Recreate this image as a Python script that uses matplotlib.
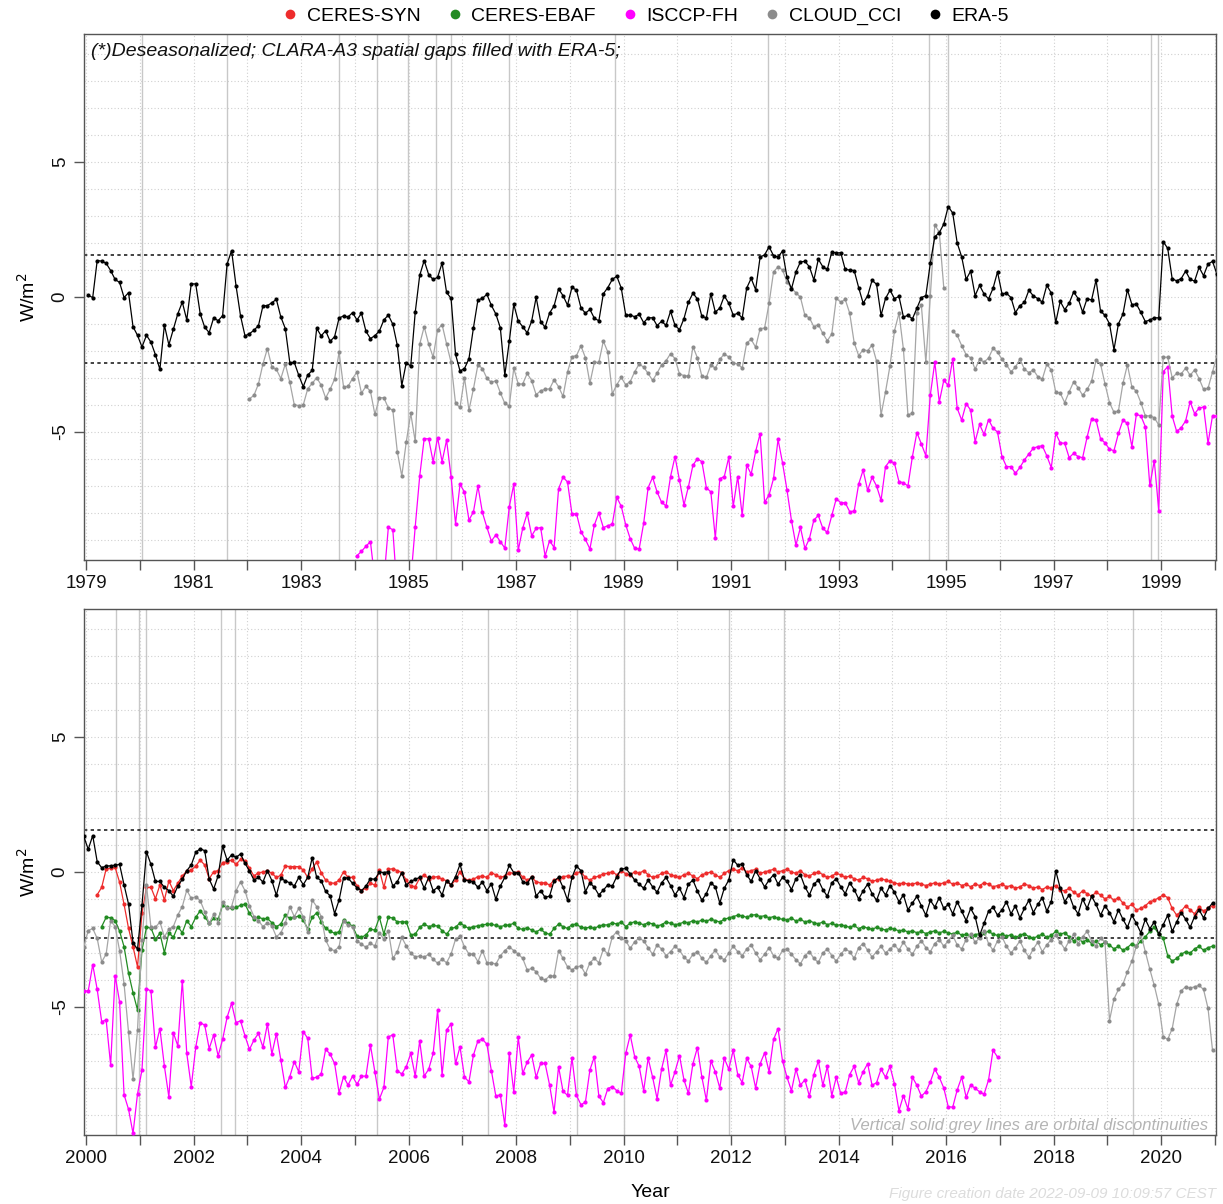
import numpy as np
import matplotlib
matplotlib.use("Agg")
import matplotlib.pyplot as plt
from matplotlib.lines import Line2D

plt.rcParams['font.family'] = ['Liberation Sans', 'DejaVu Sans']

# ---------------- data (monthly, deseasonalized anomalies, W/m2) ----------------
# ERA-5 from 1979-01
era5_start = (1979, 1)
era5 = [
    0.06, -0.02, 1.35, 1.33, 1.25, 0.98, 0.65, 0.54, -0.02, 0.16, -1.10, -1.42,
    -1.85, -1.42, -1.67, -2.14, -2.68, -1.04, -1.77, -1.19, -0.62, -0.19, -0.85, 0.49,
    0.48, -0.62, -1.12, -1.32, -0.77, -0.88, -0.69, 1.22, 1.72, 0.41, -0.70, -1.44,
    -1.36, -1.23, -1.06, -0.33, -0.32, -0.21, -0.09, -0.74, -1.17, -2.43, -2.42, -2.90,
    -3.32, -2.89, -2.72, -1.16, -1.44, -1.25, -1.64, -1.47, -0.78, -0.70, -0.74, -0.58,
    -0.85, -0.60, -1.27, -1.54, -1.43, -1.26, -0.85, -0.67, -1.01, -1.79, -3.28, -2.43,
    -2.56, -0.57, 0.80, 1.35, 0.83, 0.65, 0.73, 1.26, 0.17, -0.05, -2.12, -2.74,
    -2.65, -2.28, -1.14, -0.11, -0.05, 0.10, -0.31, -0.63, -1.14, -2.90, -1.64, -0.27,
    -0.89, -1.10, -1.33, -0.89, -0.01, -0.91, -1.12, -0.59, -0.33, 0.30, 0.05, -0.30,
    0.36, 0.25, -0.40, -0.60, -0.46, -0.79, -0.88, 0.12, 0.35, 0.65, 0.77, 0.33,
    -0.67, -0.67, -0.73, -0.64, -0.95, -0.77, -0.77, -1.06, -0.90, -1.05, -0.53, -1.05,
    -1.21, -0.80, -0.19, 0.14, -0.07, -0.72, -0.77, 0.12, -0.56, -0.41, 0.04, -0.23,
    -0.67, -0.60, -0.78, 0.33, 0.69, 0.27, 1.48, 1.56, 1.86, 1.53, 1.48, 1.70,
    0.73, 0.30, 0.93, 1.30, 1.32, 1.12, 0.63, 1.40, 1.12, 1.02, 1.67, 1.63,
    1.64, 1.02, 1.00, 0.98, 0.35, -0.23, 0.04, 0.62, 0.47, -0.68, -0.05, 0.25,
    -0.06, 0.02, -0.74, -0.68, -0.81, -0.41, -0.02, 0.05, 1.25, 2.23, 2.38, 2.70,
    3.35, 3.11, 2.00, 1.49, 0.65, 0.96, 0.05, 0.43, 0.11, -0.07, 0.32, 0.93,
    0.12, 0.14, -0.02, -0.58, -0.32, -0.20, 0.25, 0.04, -0.06, -0.19, 0.43, 0.15,
    -0.94, -0.16, -0.47, -0.23, 0.19, -0.06, -0.56, -0.06, -0.11, 0.63, -0.52, -0.68,
    -0.99, -1.95, -0.99, -0.64, 0.27, -0.28, -0.26, -0.57, -0.91, -0.85, -0.77, -0.77,
    2.05, 1.80, 0.67, 0.60, 0.68, 0.96, 0.65, 0.59, 1.10, 0.79, 1.22, 1.32,
    # 2000 -
    0.84, 1.35, 0.38, 0.16, 0.22, 0.23, 0.25, 0.28, -0.48, -1.19, -2.62, -2.86,
    -1.23, 0.75, 0.28, -0.35, -0.35, -0.57, -0.69, -0.90, -0.52, -0.27, 0.05, 0.26,
    0.73, 0.86, 0.79, -0.26, -0.63, -0.14, 0.96, 0.44, 0.63, 0.54, 0.67, 0.32,
    0.04, -0.30, -0.20, -0.37, 0.05, -0.32, -0.86, -0.23, -0.33, -0.40, -0.52, -0.20,
    -0.47, -0.20, 0.53, -0.20, -0.32, -0.72, -0.88, -1.54, -1.04, -0.22, -0.22, -0.42,
    -0.58, -0.69, -0.52, -0.25, -0.27, 0.00, -0.02, 0.01, -0.52, -0.36, -0.02, -0.48,
    -0.35, -0.27, -0.20, -0.60, -0.20, -0.69, -0.57, -0.85, -0.32, -0.48, -0.17, 0.28,
    -0.30, -0.32, -0.37, -0.57, -0.37, -0.69, -0.44, -1.01, -0.52, -0.20, 0.25, -0.02,
    -0.02, -0.36, -0.42, -0.17, -0.89, -0.69, -0.94, -0.89, -0.33, -0.20, -0.57, -1.04,
    -0.20, 0.22, 0.05, -0.73, -0.40, -0.57, -0.85, -0.67, -0.48, -0.52, -0.17, 0.10,
    0.14, -0.07, -0.30, -0.45, -0.60, -0.30, -0.55, -0.75, -0.40, -0.20, -0.50, -0.85,
    -0.60, -0.95, -0.45, -0.30, -0.70, -1.05, -0.80, -0.40, -0.55, -1.15, -0.60, -0.30,
    0.45, 0.25, 0.30, -0.10, -0.35, 0.05, -0.25, -0.55, -0.30, -0.10, -0.45, -0.20,
    -0.35, -0.65, -0.25, -0.10, -0.55, -0.85, -0.45, -0.30, -0.65, -0.90, -0.40, -0.25,
    -0.55, -0.80, -0.40, -0.65, -1.00, -0.70, -0.45, -0.80, -1.05, -0.60, -0.85, -0.50,
    -0.75, -1.10, -0.85, -1.40, -1.15, -0.90, -1.25, -1.60, -1.05, -1.30, -0.95, -1.35,
    -1.20, -1.55, -1.10, -1.45, -1.80, -1.35, -1.65, -2.35, -1.90, -1.45, -1.30, -1.60,
    -1.40, -1.10, -1.55, -1.25, -1.70, -1.35, -1.05, -1.50, -1.20, -0.95, -1.45, -1.10,
    0.05, -0.60, -1.10, -0.85, -1.30, -1.55, -1.00, -1.35, -0.90, -1.20, -1.60, -1.25,
    -1.50, -1.85, -1.40, -1.75, -2.05, -1.60, -1.90, -2.25, -1.75, -2.10, -1.85, -2.30,
    -1.95, -1.60, -2.20, -1.85, -1.50, -1.75, -2.05, -1.65, -1.40, -1.70, -1.35, -1.15,
]

# CERES-SYN from 2000-03
ceres_syn_start = (2000, 3)
ceres_syn = [
    -0.84, -0.57, 0.11, 0.14, 0.17, -0.38, -1.20, -2.09, -2.77, -3.51,
    -1.53, -0.57, -0.57, -0.99, -0.48, -1.04, -0.33, -0.69, -0.42, -0.15, 0.04, 0.07,
    0.22, 0.44, 0.26, -0.25, 0.01, 0.05, 0.35, 0.38, 0.44, 0.28, 0.47, 0.42,
    0.14, -0.15, -0.02, -0.01, 0.05, -0.05, -0.20, -0.12, 0.22, 0.20, 0.20, 0.20,
    0.07, -0.20, 0.12, 0.37, -0.02, -0.30, -0.40, -0.42, -0.30, 0.01, -0.20, -0.20,
    -0.52, -0.69, -0.60, -0.42, -0.48, 0.07, -0.57, 0.10, 0.12, 0.05, -0.02, -0.30,
    -0.52, -0.54, -0.23, -0.11, -0.25, -0.20, -0.17, -0.27, -0.32, -0.48, -0.30, 0.01,
    -0.27, -0.30, -0.27, -0.17, -0.15, -0.20, -0.02, -0.11, -0.20, -0.15, -0.02, -0.05,
    0.01, -0.20, -0.30, -0.20, -0.36, -0.40, -0.40, -0.48, -0.30, -0.25, -0.17, -0.15,
    -0.17, -0.02, 0.00, -0.20, -0.30, -0.20, -0.15, -0.07, -0.05, 0.01, -0.11, 0.05,
    -0.07, -0.11, 0.01, -0.05, 0.05, -0.10, -0.20, -0.15, -0.05, 0.00, -0.10, -0.15,
    -0.20, -0.10, -0.05, -0.15, -0.25, -0.10, -0.05, 0.00, -0.10, -0.20, -0.05, 0.05,
    0.10, 0.05, 0.15, 0.00, 0.05, 0.10, -0.05, 0.00, 0.05, 0.10, 0.00, 0.05,
    0.10, 0.00, -0.05, 0.05, -0.10, -0.15, -0.05, 0.00, -0.10, -0.20, -0.15, -0.05,
    -0.10, -0.20, -0.15, -0.25, -0.30, -0.20, -0.25, -0.35, -0.30, -0.25, -0.30, -0.35,
    -0.40, -0.45, -0.40, -0.45, -0.45, -0.40, -0.45, -0.50, -0.45, -0.40, -0.45, -0.40,
    -0.35, -0.45, -0.40, -0.50, -0.45, -0.55, -0.45, -0.50, -0.40, -0.45, -0.55, -0.50,
    -0.45, -0.55, -0.50, -0.60, -0.55, -0.45, -0.50, -0.60, -0.55, -0.65, -0.55, -0.60,
    -0.50, -0.65, -0.70, -0.60, -0.75, -0.85, -0.70, -0.80, -0.90, -0.75, -0.85, -1.00,
    -0.90, -1.05, -0.95, -1.15, -1.30, -1.20, -1.40, -1.35, -1.25, -1.10, -1.05, -0.95,
    -0.85, -0.95, -1.35, -1.60, -1.45, -1.25, -1.40, -1.55, -1.30, -1.45, -1.35, -1.25,
]

# CERES-EBAF from 2000-04
ceres_ebaf_start = (2000, 4)
ceres_ebaf = [
    -2.02, -1.68, -1.69, -1.80, -2.19, -2.77, -3.75, -4.47, -5.11,
    -2.89, -2.05, -2.07, -2.49, -2.27, -2.99, -2.25, -2.42, -2.02, -2.25, -1.80, -2.02,
    -1.68, -1.43, -1.65, -1.90, -1.72, -1.75, -1.23, -1.31, -1.35, -1.31, -1.23, -1.19,
    -1.53, -1.75, -1.68, -1.73, -1.72, -1.88, -2.02, -1.93, -1.59, -1.72, -1.68, -1.63,
    -1.78, -2.10, -1.68, -1.51, -1.84, -2.09, -2.19, -2.27, -2.21, -1.78, -1.90, -2.00,
    -2.37, -2.42, -2.33, -2.12, -2.15, -1.68, -2.30, -1.68, -1.70, -1.85, -1.84, -1.85,
    -2.33, -2.30, -2.05, -1.93, -2.02, -1.98, -2.00, -2.17, -2.30, -2.09, -2.05, -1.88,
    -2.00, -2.09, -2.02, -2.00, -1.95, -1.94, -1.93, -1.98, -2.02, -1.98, -1.96, -1.90,
    -2.09, -2.12, -2.06, -2.15, -2.22, -2.12, -2.25, -2.31, -2.09, -1.93, -2.02, -2.09,
    -1.95, -1.93, -2.05, -2.07, -2.05, -2.09, -2.00, -1.96, -1.96, -1.88, -1.93, -1.85,
    -2.02, -1.90, -1.84, -1.90, -1.95, -1.88, -1.92, -2.00, -1.95, -1.85, -1.90, -1.95,
    -1.92, -1.85, -1.88, -1.80, -1.85, -1.78, -1.82, -1.75, -1.80, -1.85, -1.75, -1.70,
    -1.65, -1.60, -1.62, -1.68, -1.60, -1.58, -1.65, -1.62, -1.70, -1.65, -1.72, -1.75,
    -1.78, -1.70, -1.82, -1.75, -1.85, -1.80, -1.88, -1.92, -1.85, -1.95, -1.90, -1.98,
    -1.95, -2.00, -2.05, -1.98, -2.10, -2.02, -2.08, -2.12, -2.05, -2.10, -2.15, -2.08,
    -2.12, -2.18, -2.15, -2.22, -2.18, -2.25, -2.20, -2.28, -2.22, -2.18, -2.25, -2.20,
    -2.25, -2.30, -2.22, -2.35, -2.30, -2.38, -2.32, -2.28, -2.25, -2.20, -2.30, -2.35,
    -2.30, -2.38, -2.32, -2.42, -2.35, -2.28, -2.40, -2.45, -2.38, -2.30, -2.42, -2.35,
    -2.20, -2.30, -2.25, -2.40, -2.55, -2.45, -2.60, -2.50, -2.65, -2.55, -2.70, -2.60,
    -2.70, -2.85, -2.75, -2.90, -2.80, -2.65, -2.75, -2.55, -2.40, -2.20, -2.05, -2.30,
    -2.45, -3.10, -3.30, -3.20, -3.05, -2.95, -3.00, -2.85, -2.75, -2.90, -2.80, -2.75,
]

# CLOUD_CCI from 1982-01 (nan = missing month)
cloud_cci_start = (1982, 1)
cloud_cci = [
    -3.77, -3.64, -3.22, -2.48, -1.91, -2.59, -2.68, -3.02, -2.48, -3.16, -3.99, -4.02,
    -4.00, -3.40, -3.20, -2.99, -3.26, -3.74, -3.42, -3.04, -2.05, -3.33, -3.31, -3.02,
    -2.78, -3.56, -3.31, -3.49, -4.35, -3.73, -3.73, -4.11, -4.19, -5.73, -6.63, -5.37,
    -4.31, -5.35, -1.75, -1.10, -1.74, -2.23, -1.21, -1.02, -1.74, -2.42, -3.94, -4.09,
    -2.99, -4.19, -3.40, -2.51, -2.65, -3.01, -3.16, -3.10, -3.54, -3.94, -4.04, -2.64,
    -3.22, -3.22, -2.83, -3.10, -3.62, -3.47, -3.42, -3.40, -3.07, -3.32, -3.68, -2.78,
    -2.21, -2.17, -1.81, -2.25, -3.19, -2.42, -2.42, -1.63, -2.04, -3.59, -3.25, -2.98,
    -3.25, -3.13, -2.77, -2.48, -2.60, -2.83, -3.09, -2.82, -2.51, -2.36, -2.10, -2.28,
    -2.85, -2.91, -2.93, -1.84, -2.25, -2.94, -2.98, -2.51, -2.64, -2.31, -2.11, -2.22,
    -2.44, -2.48, -2.63, -1.70, -1.57, -1.86, -1.17, -1.15, -0.23, 0.93, 1.12, 1.00,
    0.56, 0.32, 0.16, -0.01, -0.68, -0.77, -1.10, -1.02, -1.35, -1.62, -1.37, -0.05,
    -0.19, -0.09, -0.60, -1.69, -2.17, -1.95, -1.99, -1.78, -2.38, -4.37, -3.51, -2.54,
    -1.25, -0.60, -1.94, -4.36, -4.31, -0.58, -0.30, -2.42, 0.04, 2.67, 2.40, 0.35,
    np.nan, -1.26, -1.42, -1.80, -2.14, -2.25, -2.67, -2.31, -2.41, -2.26, -1.90, -2.04,
    -2.31, -2.51, -2.77, -2.60, -2.30, -2.67, -2.80, -2.70, -2.95, -3.04, -2.49, -2.70,
    -3.52, -3.56, -3.91, -3.51, -3.14, -3.36, -3.64, -3.42, -3.12, -2.33, -2.48, -3.22,
    -3.91, -4.27, -4.22, -3.20, -2.51, -3.33, -3.49, -3.91, -4.40, -4.40, -4.47, -4.74,
    -2.23, -2.23, -2.99, -2.83, -2.85, -2.63, -2.90, -2.70, -3.02, -3.42, -3.38, -2.78,
    # 2000 -
    -2.17, -2.09, -2.46, -3.33, -3.04, -1.80, -2.02, -2.91, -4.15, -5.94, -7.68, -5.85,
    -2.50, -0.48, -2.05, -2.05, -1.85, -2.40, -2.12, -2.02, -1.59, -1.28, -0.67, -0.98,
    -0.91, -1.06, -1.47, -1.90, -1.57, -1.88, -1.10, -1.35, -1.28, -0.69, -0.37, -0.69,
    -1.26, -1.65, -1.80, -2.02, -1.88, -2.00, -2.40, -2.25, -1.90, -1.28, -1.65, -1.35,
    -1.65, -2.21, -1.04, -1.28, -1.65, -2.52, -2.86, -2.91, -2.77, -1.83, -1.98, -2.02,
    -2.55, -2.67, -2.79, -2.64, -2.74, -2.25, -2.49, -2.17, -3.20, -2.95, -2.42, -2.74,
    -3.01, -3.14, -3.11, -3.16, -3.04, -3.23, -3.38, -3.23, -3.36, -3.04, -2.49, -2.37,
    -2.77, -3.04, -3.04, -3.32, -2.91, -3.36, -3.36, -3.41, -3.11, -2.91, -2.77, -2.91,
    -3.04, -3.20, -3.63, -3.57, -3.69, -3.94, -4.00, -3.85, -3.85, -2.91, -3.20, -3.51,
    -3.63, -3.51, -3.48, -3.78, -3.36, -3.20, -3.36, -2.86, -3.04, -2.40, -2.21, -2.46,
    -2.54, -2.83, -2.58, -2.45, -2.55, -2.80, -3.05, -2.70, -2.85, -3.10, -2.95, -2.75,
    -2.90, -3.15, -3.30, -3.05, -2.95, -3.20, -3.35, -3.10, -2.90, -3.15, -3.25, -3.00,
    -2.75, -2.95, -3.10, -2.85, -2.70, -3.00, -3.25, -3.05, -2.80, -3.10, -3.20, -2.90,
    -2.85, -3.05, -3.25, -3.40, -3.10, -2.95, -3.20, -3.35, -3.00, -2.85, -3.10, -3.30,
    -3.05, -2.85, -2.95, -3.20, -2.80, -2.65, -2.90, -3.15, -2.95, -2.75, -3.00, -2.85,
    -2.70, -2.90, -2.60, -2.85, -3.05, -2.75, -2.55, -2.80, -2.95, -2.65, -2.50, -2.75,
    -2.55, -2.35, -2.70, -2.85, -2.50, -2.30, -2.60, -2.45, -2.20, -2.65, -2.90, -2.55,
    -2.40, -2.75, -3.00, -2.80, -2.55, -2.90, -3.15, -2.85, -2.60, -2.95, -2.70, -2.50,
    -2.35, -2.60, -2.85, -2.55, -2.30, -2.65, -2.40, -2.20, -2.55, -2.75, -2.45, -2.60,
    -5.50, -4.70, -4.35, -4.15, -3.70, -3.30, -2.75, -2.30, -2.95, -3.60, -4.20, -4.90,
    -6.10, -6.20, -5.80, -4.90, -4.40, -4.25, -4.30, -4.25, -4.20, -4.35, -5.05, -6.60,
]

# ISCCP-FH from 1984-01 (values below -9.7 fall outside the panel)
isccp_start = (1984, 1)
isccp = [
    -9.58, -9.42, -9.23, -9.06, -10.5, -11.0, -10.5, -8.53, -8.62, -11.0, -11.5, -11.0,
    -10.5, -8.51, -6.64, -5.25, -5.25, -6.10, -5.21, -6.10, -5.30, -6.65, -8.40, -6.94,
    -7.22, -8.26, -7.96, -7.00, -7.98, -8.53, -9.04, -8.81, -9.06, -9.30, -7.77, -6.94,
    -9.38, -8.56, -8.01, -8.84, -8.57, -8.54, -9.59, -9.02, -9.28, -7.11, -6.67, -6.85,
    -8.04, -8.02, -8.69, -8.98, -9.33, -8.44, -7.99, -8.54, -8.47, -8.41, -7.42, -7.75,
    -8.44, -8.95, -9.31, -9.33, -8.38, -7.06, -6.68, -7.22, -7.60, -7.74, -6.65, -5.91,
    -6.79, -7.70, -7.02, -6.23, -5.99, -6.10, -7.06, -7.22, -8.94, -6.73, -6.65, -5.94,
    -7.75, -6.65, -8.09, -6.23, -6.56, -5.72, -5.06, -7.60, -7.33, -6.72, -5.27, -6.14,
    -7.15, -8.28, -9.19, -8.53, -9.31, -8.95, -8.26, -8.09, -8.57, -8.72, -8.09, -7.47,
    -7.62, -7.62, -7.95, -7.93, -6.93, -6.41, -7.16, -6.68, -7.00, -7.53, -6.28, -6.06,
    -6.16, -6.84, -6.88, -7.00, -5.91, -5.02, -5.44, -5.88, -3.63, -2.41, -3.89, -3.09,
    -3.27, -2.30, -4.12, -4.56, -3.95, -4.19, -5.36, -4.72, -5.09, -4.54, -4.86, -5.00,
    -5.91, -6.28, -6.28, -6.53, -6.31, -6.04, -5.81, -5.60, -5.54, -5.51, -5.88, -6.32,
    -5.05, -5.40, -5.42, -5.95, -5.79, -5.91, -5.95, -5.19, -4.52, -4.56, -5.25, -5.40,
    -5.64, -5.69, -5.05, -4.56, -4.68, -5.54, -4.35, -4.40, -4.80, -6.98, -6.06, -7.91,
    -2.77, -2.58, -4.41, -4.98, -4.84, -4.59, -3.88, -4.32, -4.12, -4.07, -5.42, -4.40,
    # 2000 -
    -4.41, -3.43, -4.35, -5.54, -5.48, -7.15, -3.84, -4.81, -8.25, -8.79, -9.68, -8.22,
    -7.33, -4.32, -4.41, -6.49, -5.80, -7.19, -8.33, -5.95, -6.44, -4.02, -6.72, -7.95,
    -6.49, -5.58, -5.67, -6.54, -6.04, -6.81, -6.20, -5.38, -4.86, -5.58, -5.51, -6.07,
    -6.57, -6.22, -5.98, -6.49, -5.63, -6.74, -5.99, -6.96, -7.98, -7.58, -7.02, -7.40,
    -5.91, -6.16, -7.64, -7.60, -7.48, -6.57, -6.74, -7.09, -8.17, -7.58, -7.89, -7.56,
    -7.86, -7.56, -7.56, -6.41, -7.41, -8.41, -7.98, -6.10, -6.04, -7.36, -7.48, -7.21,
    -6.72, -7.56, -6.25, -7.56, -7.31, -6.72, -5.11, -7.52, -5.85, -5.63, -7.09, -6.47,
    -7.60, -7.77, -6.78, -6.25, -6.19, -6.38, -7.36, -8.30, -8.25, -9.37, -6.72, -8.14,
    -6.12, -7.46, -7.04, -6.78, -7.60, -7.09, -7.09, -7.89, -8.89, -7.21, -8.12, -8.27,
    -6.88, -8.27, -8.62, -8.52, -7.33, -6.84, -8.30, -8.54, -8.02, -7.95, -8.10, -8.20,
    -6.72, -6.04, -6.84, -7.20, -8.10, -6.90, -7.60, -8.40, -7.30, -6.60, -7.90, -7.40,
    -6.80, -7.70, -8.20, -7.10, -6.50, -7.60, -8.45, -7.00, -7.40, -8.00, -6.90, -7.30,
    -6.60, -7.50, -7.80, -6.90, -7.20, -8.00, -7.10, -6.70, -7.40, -6.20, -5.80, -7.00,
    -7.60, -8.10, -7.30, -7.89, -7.70, -8.30, -7.50, -7.00, -7.90, -7.20, -8.28, -7.60,
    -8.20, -8.15, -7.50, -7.20, -7.80, -7.40, -7.10, -7.90, -7.80, -7.30, -7.60, -7.20,
    -7.85, -8.84, -8.28, -8.78, -7.60, -7.90, -8.30, -8.14, -7.77, -7.30, -7.60, -8.00,
    -8.69, -8.71, -8.07, -7.60, -8.34, -7.89, -8.01, -8.14, -8.23, -7.70, -6.60, -6.85,
]

# reference levels (dotted) and orbital discontinuities (decimal years)
ref_levels = [1.56, -2.44]
discont_top = [1980.05, 1981.63, 1983.71, 1984.41, 1984.99, 1985.51, 1985.79,
               1986.87, 1988.84, 1991.69, 1994.69, 1995.03, 1998.81, 1998.95]
discont_bottom = [2000.55, 2000.99, 2001.11, 2002.52, 2002.77, 2005.42,
                  2007.48, 2009.14, 2010.0, 2011.96, 2012.99, 2019.48]

series = [
    ("CERES-SYN", ceres_syn_start, ceres_syn, "#EE2C2C", "#EE2C2C"),
    ("CERES-EBAF", ceres_ebaf_start, ceres_ebaf, "#228B22", "#228B22"),
    ("ISCCP-FH", isccp_start, isccp, "#FF00FF", "#FF00FF"),
    ("CLOUD_CCI", cloud_cci_start, cloud_cci, "#A6A6A6", "#8C8C8C"),
    ("ERA-5", era5_start, era5, "#000000", "#000000"),
]


def month_times(start, n):
    y, m = start
    return y + (m - 1 + np.arange(n) + 0.5) / 12.0


W, H = 1223, 1204
fig = plt.figure(figsize=(W / 100, H / 100), dpi=100)


def add_axes_px(left, top, right, bottom):
    return fig.add_axes([left / W, 1 - bottom / H, (right - left) / W, (bottom - top) / H])


ax_top = add_axes_px(84, 34, 1216, 560)
ax_bot = add_axes_px(84, 609, 1216, 1135)

panels = [
    (ax_top, 1979, discont_top),
    (ax_bot, 2000, discont_bottom),
]

for ax, y0, disc in panels:
    xmin = y0 - 2 / 53.75
    xmax = y0 + 1130 / 53.75
    ax.set_xlim(xmin, xmax)
    ax.set_ylim(-9.74, 9.74)
    for yy in range(-9, 10):
        ax.axhline(yy, color="#d0d0d0", lw=0.8, ls=(0, (1, 2)), zorder=0)
    for xx in range(y0, y0 + 22):
        ax.axvline(xx, color="#d0d0d0", lw=0.8, ls=(0, (1, 2)), zorder=0)
    for d in disc:
        ax.axvline(d, color="#c8c8c8", lw=1.0, zorder=1)
    for r in ref_levels:
        ax.axhline(r, color="#222222", lw=1.2, ls=(0, (2, 2)), zorder=2)
    for name, start, vals, lc, mc in series:
        v = np.array(vals, dtype=float)
        t = month_times(start, len(v))
        ax.plot(t, v, color=lc, lw=0.9, marker="o", ms=3.0, mfc=mc, mec=mc,
                mew=0, zorder=3, clip_on=True)
    years = np.arange(y0, y0 + 22)
    ax.set_xticks(years)
    ax.set_xticklabels([str(y) if (y - y0) % 2 == 0 else "" for y in years])
    ax.set_yticks([-5, 0, 5])
    ax.set_yticklabels(["-5", "0", "5"], rotation=90, va="center")
    ax.tick_params(axis="both", direction="out", length=7, width=1.0,
                   color="#555555", labelsize=13.5, labelcolor="#111111")
    ax.tick_params(axis="x", pad=4)
    ax.tick_params(axis="y", pad=4)
    for s in ax.spines.values():
        s.set_color("#555555")
        s.set_linewidth(1.0)
    ax.set_ylabel("W/m$^2$", fontsize=14, labelpad=9)

ax_top.text(0.006, 0.982, "(*)Deseasonalized; CLARA-A3 spatial gaps filled with ERA-5;",
            transform=ax_top.transAxes, fontsize=14, style="italic",
            ha="left", va="top", color="#111111")
ax_bot.text(0.993, 0.004, "Vertical solid grey lines are orbital discontinuities",
            transform=ax_bot.transAxes, fontsize=12, style="italic",
            ha="right", va="bottom", color="#b4b4b4")
ax_bot.set_xlabel("Year", fontsize=14, labelpad=12)

fig.text(1216 / W, 1 - 1194 / H, "Figure creation date 2022-09-09 10:09:57 CEST",
         fontsize=11, style="italic", color="#dcdcdc", ha="right", va="center")

handles = [Line2D([], [], ls="none", marker="o", ms=7, mfc=s[4], mec=s[4], mew=0)
           for s in series]
fig.legend(handles, [s[0] for s in series], loc="center", ncol=5,
           bbox_to_anchor=(645 / W, 1 - 16 / H), frameon=False, fontsize=14,
           handletextpad=0.35, columnspacing=1.25, handlelength=1.0)

fig.savefig("out.png", dpi=100)
